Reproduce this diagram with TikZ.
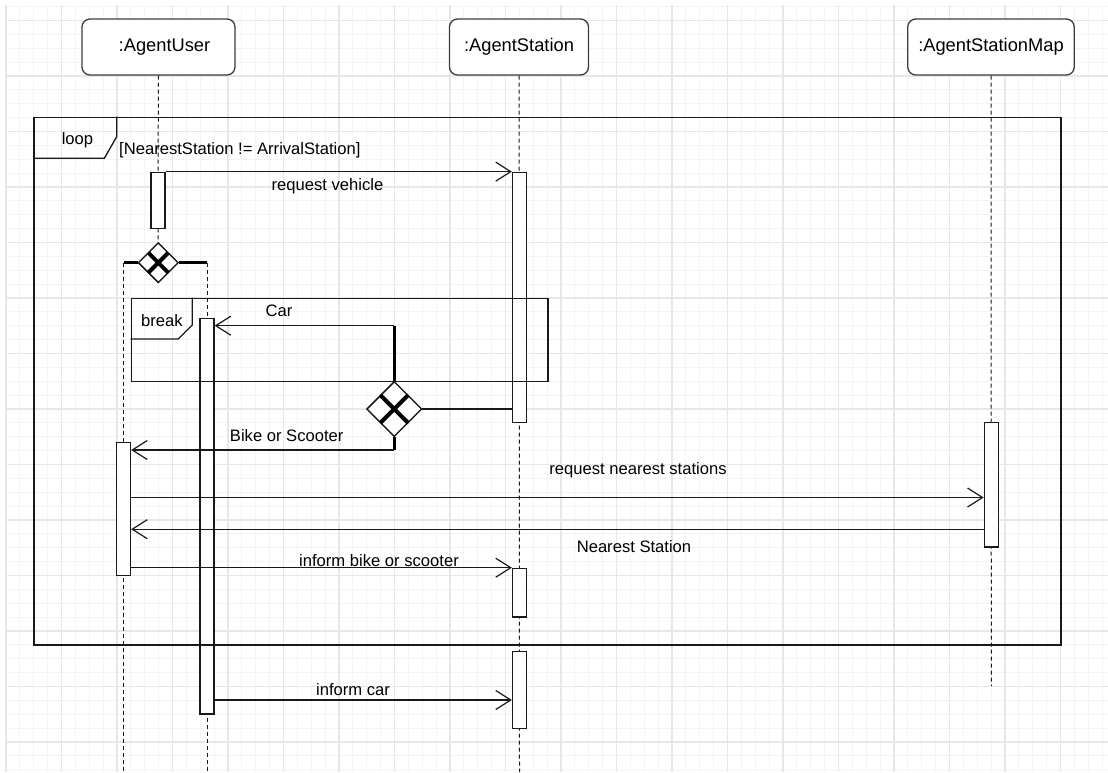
\documentclass[tikz,border=0pt]{standalone}
\usepackage{fontspec}
\setmainfont{Liberation Sans}
\usetikzlibrary{arrows.meta,shapes.geometric}
\definecolor{gmaj}{RGB}{231,231,231}
\definecolor{gmin}{RGB}{244,244,244}
\definecolor{ln}{RGB}{25,25,25}
\tikzset{
 head/.style={draw=ln!85, line width=1.3pt, rounded corners=8pt, fill=white, minimum height=56pt, inner sep=0pt, font=\fontsize{18.3}{22}\selectfont},
 life/.style={draw=ln, line width=1pt, dash pattern=on 4pt off 3pt},
 act/.style={draw=ln, line width=1.3pt, fill=white, minimum width=14pt, inner sep=0pt},
 frm/.style={draw=ln, line width=1.3pt, inner sep=0pt, anchor=north west},
 msg/.style={draw=ln, line width=1.2pt, -{Straight Barb[length=15pt,width=19pt]}},
 plainln/.style={draw=ln, line width=1.2pt},
 bar/.style={draw=black, line width=3.5pt},
 cross/.style={draw=black, line width=4pt},
 gate/.style={diamond, aspect=1, draw=ln, line width=1.3pt, fill=white, inner sep=0pt},
 lbl/.style={inner sep=0pt, font=\fontsize{16.6}{20}\selectfont},
}
\begin{document}
\begin{tikzpicture}[x=1pt,y=-1pt]
\useasboundingbox (0,0) rectangle (1108,772);
% grid
\foreach \i in {0,...,79} \draw[gmin, line width=0.9pt] ({6+13.875*\i},5) -- ({6+13.875*\i},772);
\foreach \j in {0,...,55} \draw[gmin, line width=0.9pt] (5,{6.625+13.875*\j}) -- (1108,{6.625+13.875*\j});
\foreach \i in {0,...,19} \draw[gmaj, line width=1.2pt] ({6+55.5*\i},5) -- ({6+55.5*\i},772);
\foreach \j in {0,...,13} \draw[gmaj, line width=1.2pt] (5,{20.5+55.5*\j}) -- (1108,{20.5+55.5*\j});

% headers
\node[head, minimum width=153pt] (u) at (158.5,47) {\hspace{12pt}:AgentUser};
\node[head, minimum width=139pt] (s) at (519,47) {:AgentStation};
\node[head, minimum width=166.5pt] (m) at (991,47) {:AgentStationMap};

% gateways positions
\node[gate, minimum size=40pt] (g1) at (158.3,262.7) {};
\node[gate, minimum size=55pt] (g2) at (394.3,409) {};

\coordinate (bl) at (123.5,262.7);
\coordinate (br) at (207,262.7);
\coordinate (ub1) at (123.5,772);
\coordinate (ub2) at (207,772);
\coordinate (sb) at (519.5,772);
\coordinate (mb) at (991.3,686);

% lifelines
\draw[life] (u.south) -- (158,172.3);
\draw[life] (158,228.3) -- (g1.north);
\draw[life] (bl) -- (ub1);
\draw[life] (br) -- (ub2);
\draw[life] (s.south) -- (sb);
\draw[life] (m.south) -- (mb);

% activations
\node[act, minimum height=56pt] (a1) at (158,200.3) {};
\node[act, minimum height=250pt] (s1) at (519.5,297.3) {};
\node[act, minimum height=133pt] (u2) at (123.5,509.2) {};
\node[act, minimum height=395.7pt] (u3) at (207,516.2) {};
\node[act, minimum height=124.7pt] (m1) at (991.3,484.7) {};
\node[act, minimum height=48.7pt] (s2) at (519.5,592.7) {};
\node[act, minimum height=76.6pt] (s3) at (519.5,690) {};

% loop frame
\node[frm, minimum width=1027pt, minimum height=527.6pt] (loop) at (33.3,116.7) {};
\draw[draw=ln, line width=1.3pt] (loop.north west) ++(83.4,0) -- ++(0,20) -- (104.3,158.3) -- (33.3,158.3);
\node[lbl] (looplbl) at (77.5,140) {loop};
\node[lbl, anchor=west] (guard) at (119,150) {[NearestStation != ArrivalStation]};

% break frame
\node[frm, minimum width=416.6pt, minimum height=83pt] (brk) at (130.7,297.7) {};
\draw[draw=ln, line width=1.3pt] (192.3,297.7) -- (192.3,325) -- (178.3,339) -- (130.7,339);
\node[lbl] (brklbl) at (162,321) {break};

% gateways on top
\draw[bar] (bl) -- (g1.west);
\draw[bar] (g1.east) -- (br);
\node[gate, minimum size=40pt] at (g1) {};
\draw[cross] (g1) ++(-10,-10) -- ++(20,20);
\draw[cross] (g1) ++(-10,10) -- ++(20,-20);
\node[gate, minimum size=55pt] at (g2) {};
\draw[cross] (g2) ++(-14,-14) -- ++(28,28);
\draw[cross] (g2) ++(-14,14) -- ++(28,-28);

% messages
\draw[msg] (a1.north east) -- (s1.north west);
\node[lbl] (l1) at (327.5,186) {request vehicle};

\coordinate (carc) at (394.3,325.7);
\draw[bar] (g2.north) -- (carc);
\draw[msg] (carc) -- (u3.east |- carc);
\node[lbl] (l2) at (279,310.7) {Car};

\draw[plainln] (g2.east) -- (s1.west |- g2.east);

\coordinate (bikec) at (394.3,450);
\draw[bar] (g2.south) -- (bikec);
\draw[msg] (bikec) -- (u2.east |- bikec);
\node[lbl] (l3) at (286.7,435.7) {Bike or Scooter};

\coordinate (y1) at (0,497.5);
\draw[msg] (u2.east |- y1) -- (m1.west |- y1);
\node[lbl] (l4) at (638,470.3) {request nearest stations};

\coordinate (y2) at (0,529.2);
\draw[msg] (m1.west |- y2) -- (u2.east |- y2);
\node[lbl] (l5) at (634,546.7) {Nearest Station};

\draw[msg] (u2.east |- s2.north west) -- (s2.north west);
\node[lbl] (l6) at (379,560.7) {inform bike or scooter};

\coordinate (y3) at (0,700);
\draw[msg] (u3.east |- y3) -- (s3.west |- y3);
\node[lbl] (l7) at (353,690) {inform car};
\end{tikzpicture}
\end{document}
